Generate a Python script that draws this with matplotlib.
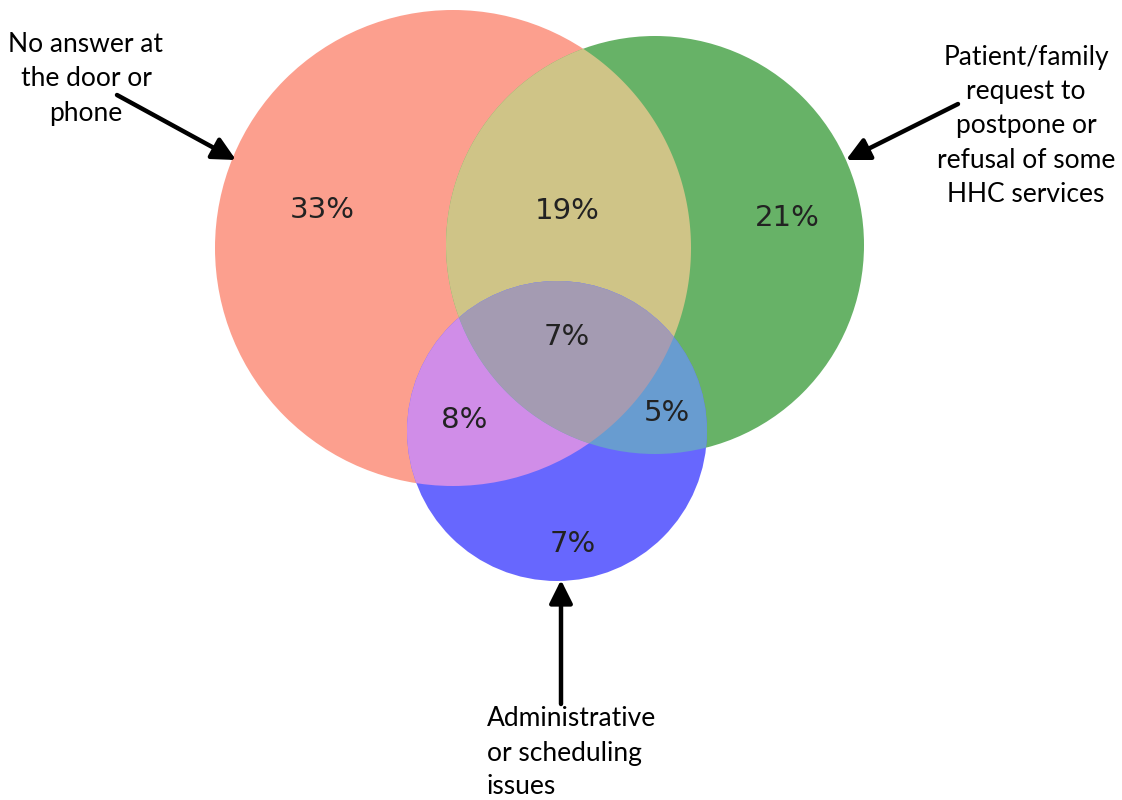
import numpy as np
import matplotlib
matplotlib.use("Agg")
import matplotlib.pyplot as plt
from matplotlib.patches import Circle, Polygon

# ── Data ─────────────────────────────────────────────────────────────────────

SET_LABELS = [
    "No answer at\nthe door or\nphone",
    "Patient/family\nrequest to\npostpone or\nrefusal of some\nHHC services",
    "Administrative\nor scheduling\nissues",
]

# region shares (%)
REGIONS = ["A", "B", "AB", "ABC", "AC", "BC", "C"]
PERCENTS = [33, 21, 19, 7, 8, 5, 7]

# ── Layout (pixel space, y down) ─────────────────────────────────────────────

CIRCLES = {
    "A": ((453, 248), 238),
    "B": ((655, 245), 209),
    "C": ((557, 431), 150),
}

REGION_COLORS = {
    "A": "#fc9f8e",
    "B": "#67b267",
    "C": "#6767fe",
    "AB": "#cfc487",
    "AC": "#d08de8",
    "BC": "#689cd0",
    "ABC": "#a49bb2",
}

LABEL_POS = {
    "A": (322, 210), "B": (787, 218), "AB": (567, 211),
    "ABC": (567, 337), "AC": (464, 420), "BC": (667, 413), "C": (573, 544),
}

# ── helpers ───────────────────────────────────────────────────────────────────

def lens_points(c1, r1, c2, r2, n=200):
    """Outline of the intersection of two circles."""
    (x1, y1), (x2, y2) = c1, c2
    d = np.hypot(x2 - x1, y2 - y1)
    phi = np.arctan2(y2 - y1, x2 - x1)
    a = (r1**2 - r2**2 + d**2) / (2 * d)
    al1 = np.arccos(a / r1)
    al2 = np.arccos((d - a) / r2)
    t1 = np.linspace(phi - al1, phi + al1, n)
    t2 = np.linspace(phi + np.pi - al2, phi + np.pi + al2, n)
    p1 = np.column_stack([x1 + r1 * np.cos(t1), y1 + r1 * np.sin(t1)])
    p2 = np.column_stack([x2 + r2 * np.cos(t2), y2 + r2 * np.sin(t2)])
    return np.vstack([p1, p2])


def circ(ax, key, color=None, clip=None):
    (cx, cy), r = CIRCLES[key]
    p = Circle((cx, cy), r, facecolor=color or "none", edgecolor="none",
               transform=ax.transData)
    if clip is not None:
        p.set_clip_path(clip)
    return p

# ── Plot ─────────────────────────────────────────────────────────────────────

fig = plt.figure(figsize=(11.22, 8), dpi=100)
ax = fig.add_axes([0, 0, 1, 1])
ax.set_xlim(0, 1122)
ax.set_ylim(800, 0)
ax.axis("off")

(ca, ra), (cb, rb) = CIRCLES["A"], CIRCLES["B"]
ab = lens_points(ca, ra, cb, rb)

ax.add_patch(circ(ax, "A", REGION_COLORS["A"]))
ax.add_patch(circ(ax, "B", REGION_COLORS["B"]))
ax.add_patch(Polygon(ab, closed=True, facecolor=REGION_COLORS["AB"], edgecolor="none"))
ax.add_patch(circ(ax, "C", REGION_COLORS["C"]))
ax.add_patch(circ(ax, "C", REGION_COLORS["AC"], clip=circ(ax, "A")))
ax.add_patch(circ(ax, "C", REGION_COLORS["BC"], clip=circ(ax, "B")))
ax.add_patch(Polygon(ab, closed=True, facecolor=REGION_COLORS["ABC"], edgecolor="none",
                     clip_path=circ(ax, "C")))

for reg, pct in zip(REGIONS, PERCENTS):
    x, y = LABEL_POS[reg]
    ax.text(x, y, f"{pct}%", ha="center", va="center", fontsize=21,
            color="#222222", family="DejaVu Sans")

# set labels + arrows
lab_font = dict(family="Lato", fontsize=19, color="black", linespacing=1.45)
ax.text(86, 79, SET_LABELS[0], ha="center", va="center", **lab_font)
ax.text(1026, 126, SET_LABELS[1], ha="center", va="center", **lab_font)
ax.text(487, 753, SET_LABELS[2], ha="left", va="center", multialignment="left", **lab_font)

arrow = dict(arrowstyle="-|>,head_length=0.7,head_width=0.35", lw=3.2,
             color="black", shrinkA=0, shrinkB=0, mutation_scale=20)
ax.annotate("", xy=(236, 160), xytext=(117, 95), arrowprops=arrow)
ax.annotate("", xy=(846, 160), xytext=(958, 104), arrowprops=arrow)
ax.annotate("", xy=(561, 580), xytext=(561, 704), arrowprops=arrow)

fig.savefig("out.png", dpi=100)
